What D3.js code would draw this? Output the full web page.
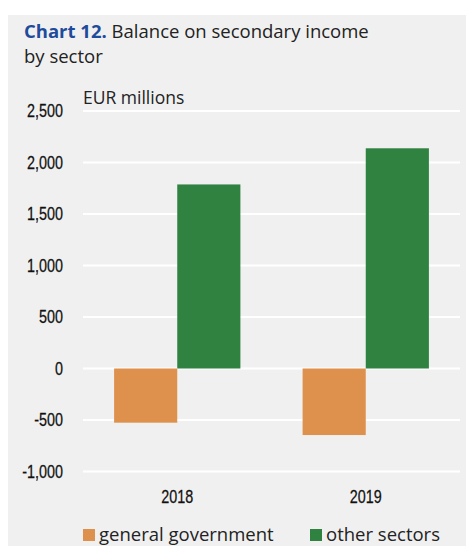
<!DOCTYPE html>
<html>
<head>
<meta charset="utf-8">
<script src="https://cdn.jsdelivr.net/npm/d3@7"></script>
<style>
  html, body { margin: 0; padding: 0; background: #ffffff; }
  svg { display: block; }
</style>
</head>
<body>
<svg id="chart" width="466" height="546"></svg>
<script>
// Balance on secondary income by sector, EUR millions
const years = ["2018", "2019"];
const sectors = ["general government", "other sectors"];
const generalGovernment = [-526, -646];
const otherSectors = [1787, 2138];
const yTicks = [-1000, -500, 0, 500, 1000, 1500, 2000, 2500];
const sectorColors = ["#dd914d", "#2f8240"];

const W = 466, H = 546;
const margin = { left: 83, right: 6, top: 111, bottom: 75 };
const narrowFont = "'Liberation Sans', Arial, sans-serif";
const textFont = "'Open Sans', 'Noto Sans', sans-serif";

const svg = d3.select("#chart");

// panel background
svg.append("rect")
  .attr("x", 8).attr("y", 15)
  .attr("width", W - 8).attr("height", H - 15)
  .attr("fill", "#f0f0f0");

// title
const title = svg.append("text")
  .attr("x", 24).attr("y", 38)
  .attr("font-family", textFont)
  .attr("font-size", 18.5)
  .attr("fill", "#222");
title.append("tspan").attr("font-weight", "bold").attr("fill", "#1e4b9b").text("Chart 12.");
title.append("tspan").text(" Balance on secondary income");
svg.append("text")
  .attr("x", 24).attr("y", 63)
  .attr("font-family", textFont)
  .attr("font-size", 18.5)
  .attr("fill", "#222")
  .text("by sector");

const x0 = d3.scaleBand()
  .domain(years)
  .range([margin.left, W - margin.right])
  .paddingInner(0.33)
  .paddingOuter(0.165);

const x1 = d3.scaleBand()
  .domain(sectors)
  .range([0, x0.bandwidth()]);

const y = d3.scaleLinear()
  .domain([-1000, 2500])
  .range([471.5, 111]);

// gridlines
svg.append("g")
  .selectAll("line")
  .data(yTicks)
  .join("line")
  .attr("x1", margin.left)
  .attr("x2", W - margin.right)
  .attr("y1", d => y(d))
  .attr("y2", d => y(d))
  .attr("stroke", "#ffffff")
  .attr("stroke-width", 2);

// y axis labels (plain hyphen for negatives)
const fmt = d3.format(",");
const yAxis = d3.axisLeft(y)
  .tickValues(yTicks)
  .tickSize(0)
  .tickPadding(0)
  .tickFormat(d => fmt(d).replace("\u2212", "-"));
const yg = svg.append("g")
  .attr("transform", `translate(63,0)`)
  .call(yAxis);
yg.select(".domain").remove();
yg.selectAll("text")
  .attr("font-family", narrowFont)
  .attr("font-size", 17.5)
  .attr("fill", "#111")
  .attr("stroke", "#111")
  .attr("stroke-width", 0.25)
  .attr("transform", "scale(0.82,1)");

// unit label
svg.append("text")
  .attr("x", margin.left).attr("y", 104)
  .attr("font-family", textFont)
  .attr("font-size", 17.5)
  .attr("fill", "#222")
  .text("EUR millions");

// bars
const rows = years.map((yr, i) => ({
  year: yr,
  values: [generalGovernment[i], otherSectors[i]]
}));

svg.append("g")
  .selectAll("g")
  .data(rows)
  .join("g")
  .attr("transform", d => `translate(${x0(d.year)},0)`)
  .selectAll("rect")
  .data(d => d.values.map((v, j) => ({ sector: sectors[j], value: v, j })))
  .join("rect")
  .attr("x", d => x1(d.sector))
  .attr("width", x1.bandwidth())
  .attr("y", d => y(Math.max(0, d.value)))
  .attr("height", d => Math.abs(y(d.value) - y(0)))
  .attr("fill", d => sectorColors[d.j]);

// x axis labels
const xAxis = d3.axisBottom(x0).tickSize(0).tickPadding(0);
const xg = svg.append("g")
  .attr("transform", `translate(0,503)`)
  .call(xAxis);
xg.select(".domain").remove();
xg.selectAll("text")
  .attr("dy", 0)
  .attr("font-family", narrowFont)
  .attr("font-size", 17.5)
  .attr("fill", "#111")
  .attr("stroke", "#111")
  .attr("stroke-width", 0.25)
  .attr("transform", "scale(0.82,1)");

// legend
const legendX = [83, 310];
const lg = svg.append("g");
sectors.forEach((s, i) => {
  lg.append("rect")
    .attr("x", legendX[i]).attr("y", 529)
    .attr("width", 12).attr("height", 12)
    .attr("fill", sectorColors[i]);
  lg.append("text")
    .attr("x", legendX[i] + 16).attr("y", 541)
    .attr("font-family", textFont)
    .attr("font-size", 18.5)
    .attr("fill", "#222")
    .text(s);
});
</script>
</body>
</html>
